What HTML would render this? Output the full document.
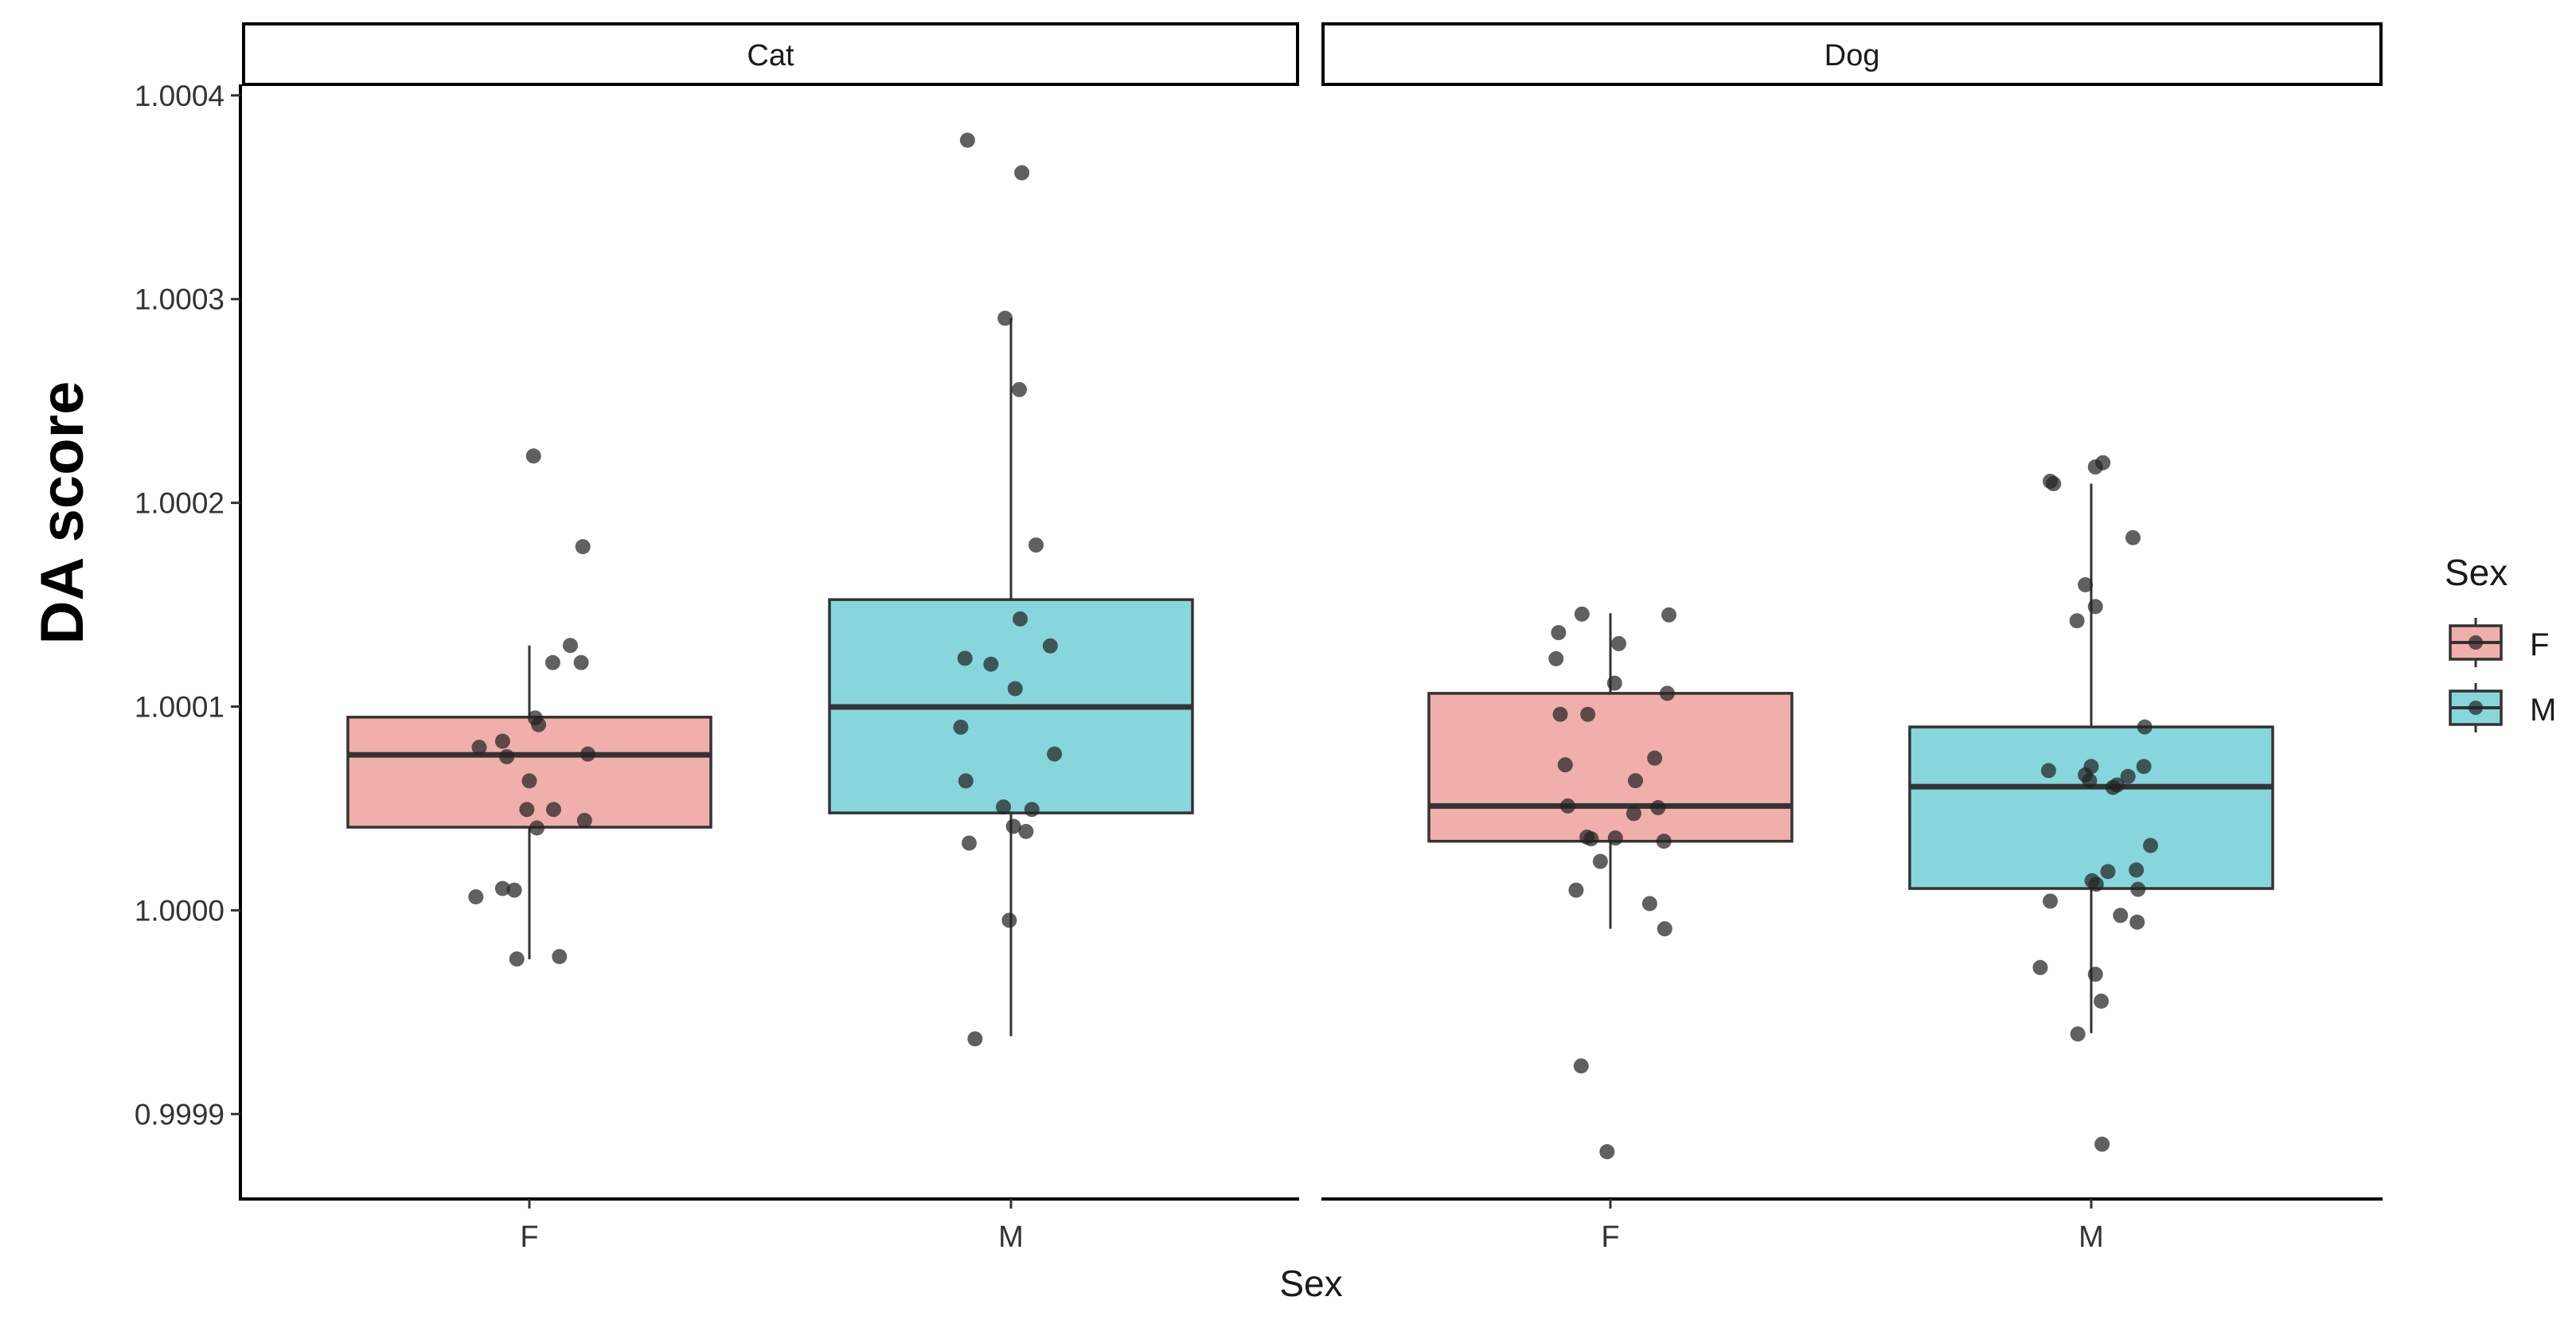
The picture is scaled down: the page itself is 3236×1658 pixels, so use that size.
<!DOCTYPE html>
<html><head><meta charset="utf-8"><style>
html,body{margin:0;padding:0;background:#fff;}
svg{display:block;font-family:"Liberation Sans",Arial,sans-serif;}
</style></head><body>
<svg id="chart" width="3236" height="1658" viewBox="0 0 3236 1658">
<g id="layer"></g>
</svg>
<script>
// ---- data (values in units of 1e-4 relative to 1.0000) ----
const panels = ["Cat", "Dog"];
const categories = ["F", "M"];
const yTicks = [-1, 0, 1, 2, 3, 4];
const yTickLabels = ["0.9999", "1.0000", "1.0001", "1.0002", "1.0003", "1.0004"];
// box stats: [lower whisker, q1, median, q3, upper whisker]
const catF_box = [-0.24, 0.408, 0.763, 0.948, 1.30];
const catM_box = [-0.618, 0.478, 0.998, 1.525, 2.906];
const dogF_box = [-0.091, 0.339, 0.512, 1.065, 1.458];
const dogM_box = [-0.603, 0.107, 0.607, 0.900, 2.094];
const catF_y = [2.23,1.785,1.30,1.216,1.216,0.944,0.911,0.80,0.83,0.754,0.767,0.635,0.495,0.495,0.441,0.404,0.066,0.107,0.099,-0.239,-0.227];
const catF_jit = [5,64,49,28,62,7,11,-60,-32,-27,70,0,-3,29,66,9,-64,-32,-18,-15,36];
const catM_y = [3.78,3.62,2.906,2.556,1.793,1.43,1.237,1.208,1.298,1.088,0.899,0.767,0.635,0.507,0.495,0.412,0.387,0.33,-0.049,-0.631];
const catM_jit = [-52,13,-7,10,30,11,-55,-24,47,5,-60,52,-54,-9,25,3,18,-50,-2,-43];
const dogF_y = [1.454,1.450,1.363,1.235,1.309,1.115,1.065,0.962,0.962,0.747,0.714,0.636,0.512,0.475,0.504,0.359,0.351,0.355,0.339,0.240,0.099,0.033,-0.091,-0.764,-1.185];
const dogF_jit = [-34,70,-62,-65,10,5,68,-60,-27,53,-54,30,-51,28,57,-28,-23,6,64,-12,-41,47,65,-35,-4];
const dogM_y = [2.197,2.176,2.106,2.094,1.829,1.598,1.491,1.421,0.900,0.686,0.706,0.706,0.665,0.636,0.657,0.603,0.615,0.318,0.190,0.198,0.145,0.128,0.103,0.045,-0.025,-0.058,-0.281,-0.314,-0.446,-0.607,-1.148];
const dogM_jit = [14,5,-49,-45,50,-7,5,-17,64,-51,0,63,-7,-2,44,26,31,71,20,54,1,6,56,-49,35,55,-61,5,12,-16,13];

const groups = [
  {panel:0, cat:0, box:catF_box, ys:catF_y, jit:catF_jit, fill:"#F0AFAA", name:"cat-f"},
  {panel:0, cat:1, box:catM_box, ys:catM_y, jit:catM_jit, fill:"#87D6DC", name:"cat-m"},
  {panel:1, cat:0, box:dogF_box, ys:dogF_y, jit:dogF_jit, fill:"#F0AFAA", name:"dog-f"},
  {panel:1, cat:1, box:dogM_box, ys:dogM_y, jit:dogM_jit, fill:"#87D6DC", name:"dog-m"}
];

// ---- layout ----
const NS = "http://www.w3.org/2000/svg";
const layer = document.getElementById("layer");
const panelX = [[304,1632],[1660,2993]];
const catCenters = [[665,1270],[2023,2627]];
const boxHalf = 228;
const plotBottom = 1506;
function yScale(v){ return 1143.4 - v*255.9; }
function xScale(p, c, j){ return catCenters[p][c] + (j||0)*1.05; }
function mk(tag, attrs, parent){
  const e = document.createElementNS(NS, tag);
  for (const k in attrs) e.setAttribute(k, attrs[k]);
  (parent||layer).appendChild(e);
  return e;
}

// strips + axes
panels.forEach((p, i) => {
  const [x0, x1] = panelX[i];
  const strip = mk("rect", {x:x0+2, y:30, width:x1-x0-4, height:76, fill:"#fff", stroke:"#000", "stroke-width":4});
  
  
  const st = mk("text", {x:(x0+x1)/2, y:82, "text-anchor":"middle", "font-size":38, fill:"#1a1a1a"});
  st.textContent = p;
  
  
  const xa = mk("line", {x1:x0, x2:x1, y1:plotBottom, y2:plotBottom, stroke:"#000", "stroke-width":4});
  
  
  categories.forEach((c, ci) => {
    const cx = xScale(i, ci, 0);
    const tk = mk("line", {x1:cx, x2:cx, y1:plotBottom, y2:plotBottom+12, stroke:"#333", "stroke-width":3});
    
    
    const tl = mk("text", {x:cx, y:1566, "text-anchor":"middle", "font-size":38, fill:"#333"});
    tl.textContent = c;
    
    
  });
});
// y axis
const ya = mk("line", {x1:302, x2:302, y1:106, y2:plotBottom+2, stroke:"#000", "stroke-width":4});


yTicks.forEach((t, i) => {
  const y = yScale(t);
  const tk = mk("line", {x1:290, x2:302, y1:y, y2:y, stroke:"#333", "stroke-width":3});
  
  
  const tl = mk("text", {x:282, y:y+13, "text-anchor":"end", "font-size":37, fill:"#333"});
  tl.textContent = yTickLabels[i];
  
  
});

// boxes
groups.forEach(g => {
  const cx = xScale(g.panel, g.cat, 0);
  const [lw, q1, med, q3, uw] = g.box;
  const wh = mk("line", {x1:cx, x2:cx, y1:yScale(uw), y2:yScale(lw), stroke:"#333", "stroke-width":3});
  
  
  const bx = mk("rect", {x:cx-boxHalf, y:yScale(q3), width:boxHalf*2, height:yScale(q1)-yScale(q3), fill:g.fill, stroke:"#333", "stroke-width":3.5});
  
  
  const md = mk("line", {x1:cx-boxHalf, x2:cx+boxHalf, y1:yScale(med), y2:yScale(med), stroke:"#333", "stroke-width":7});
  
  
});
// points
groups.forEach(g => {
  g.ys.forEach((v, i) => {
    const c = mk("circle", {cx:xScale(g.panel, g.cat, g.jit[i]), cy:yScale(v), r:9.5, fill:"#222", "fill-opacity":0.72});
    
    
  });
});

// titles
const yt = mk("text", {x:0, y:0, transform:"translate(104,644) rotate(-90)", "text-anchor":"middle", "font-size":76, "font-weight":"bold", fill:"#000"});
yt.textContent = "DA score";


const xt = mk("text", {x:1647, y:1628, "text-anchor":"middle", "font-size":46, fill:"#1a1a1a"});
xt.textContent = "Sex";



// legend
const lt = mk("text", {x:3071, y:735, "font-size":46, fill:"#1a1a1a"});
lt.textContent = "Sex";


const legendFills = ["#F0AFAA", "#87D6DC"];
categories.forEach((c, i) => {
  const top = 786 + i*82;
  const g = mk("g", {});
  
  
  mk("line", {x1:3110, x2:3110, y1:top-10, y2:top+52, stroke:"#333", "stroke-width":3}, g);
  mk("rect", {x:3078, y:top, width:64, height:42, fill:legendFills[i], stroke:"#333", "stroke-width":3.5}, g);
  mk("line", {x1:3078, x2:3142, y1:top+21, y2:top+21, stroke:"#333", "stroke-width":4}, g);
  mk("circle", {cx:3110, cy:top+21, r:9, fill:"#222", "fill-opacity":0.72}, g);
  const t = mk("text", {x:3178, y:top+37, "font-size":40, fill:"#1a1a1a"}, g);
  t.textContent = c;
});
</script>
</body></html>
